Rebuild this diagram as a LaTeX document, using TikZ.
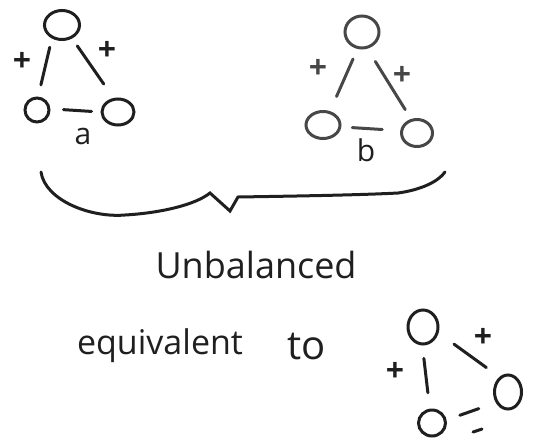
\documentclass[tikz,border=0pt]{standalone}
\usepackage{fontspec}
\setmainfont{Open Sans}
\usetikzlibrary{shapes.geometric}
\begin{document}
\begin{tikzpicture}[x=1pt,y=-1pt,
  ink/.style={line width=3pt, line cap=round, draw=black!88},
  grey/.style={draw=black!72},
  vert/.style={ellipse, ink, inner sep=0pt},
  lbl/.style={font=\fontsize{30}{32}\selectfont, inner sep=0pt, text=black!88},
  plus/.style={font=\bfseries\fontsize{32}{34}\selectfont, inner sep=0pt, text=black!88},
  big/.style={font=\fontsize{34}{38}\selectfont, inner sep=0pt, text=black!88}]
\useasboundingbox (0,0) rectangle (534,442);
% triangle a
\node[vert, minimum width=35pt, minimum height=29pt] (a1) at (62,25) {};
\node[vert, minimum width=24pt, minimum height=24pt] (a2) at (37,110) {};
\node[vert, minimum width=32pt, minimum height=26pt] (a3) at (118,112) {};
\draw[ink, shorten <=9pt, shorten >=12pt] (a1.233) -- (a2.85);
\draw[ink, shorten <=9pt, shorten >=17pt] (a1.307) -- (a3.108);
\draw[ink, shorten <=13pt, shorten >=9pt] (a2.5) -- (a3.180);
\node[plus] (pa1) at (22,62) {+};
\node[plus] (pa2) at (107,51) {+};
\node[lbl] (la) at (83,136) {a};
% triangle b
\node[vert, grey, minimum width=34pt, minimum height=32pt] (b1) at (362,32) {};
\node[vert, grey, minimum width=34pt, minimum height=27pt] (b2) at (323,125) {};
\node[vert, grey, minimum width=31pt, minimum height=27pt] (b3) at (417,133) {};
\draw[ink, grey, shorten <=11pt, shorten >=16pt] (b1.255) -- (b2.63);
\draw[ink, grey, shorten <=15pt, shorten >=11pt] (b1.288) -- (b3.113);
\draw[ink, grey, shorten <=11pt, shorten >=18pt] (b2.354) -- (b3.172);
\node[plus, text=black!72] (pb1) at (318,69) {+};
\node[plus, text=black!72] (pb2) at (402,76) {+};
\node[lbl] (lb) at (366,150) {b};
% brace
\draw[ink] (41,172) .. controls (45,200) and (90,218) .. (125,215)
  .. controls (160,213) and (195,205) .. (210,193)
  -- (230,211) -- (238,197)
  .. controls (300,196) and (360,195) .. (398,193)
  .. controls (420,190) and (438,182) .. (445,172);
% text
\node[big, font=\fontsize{36}{40}\selectfont] (unb) at (256,265) {Unbalanced};
\node[big, font=\fontsize{34}{38}\selectfont] (eq) at (160,346) {equivalent};
\node[big, font=\fontsize{40}{44}\selectfont] (to) at (307,347) {to};
% triangle c
\node[vert, minimum width=30pt, minimum height=34pt] (c1) at (423,327) {};
\node[vert, minimum width=27pt, minimum height=26pt] (c2) at (432,423) {};
\node[vert, minimum width=27pt, minimum height=34pt] (c3) at (508,392) {};
\draw[ink, shorten <=13pt, shorten >=16pt] (c1.268) -- (c2.99);
\draw[ink, shorten <=19pt, shorten >=16pt] (c1.339) -- (c3.120);
\draw[ink, shorten <=14pt, shorten >=18pt] (c2.12) -- (c3.221);
\coordinate (m1) at (473,432);
\coordinate (m2) at (482,429);
\draw[ink] (m1) -- (m2);
\node[plus] (pc1) at (395,372) {+};
\node[plus] (pc2) at (483,338) {+};
\end{tikzpicture}
\end{document}
